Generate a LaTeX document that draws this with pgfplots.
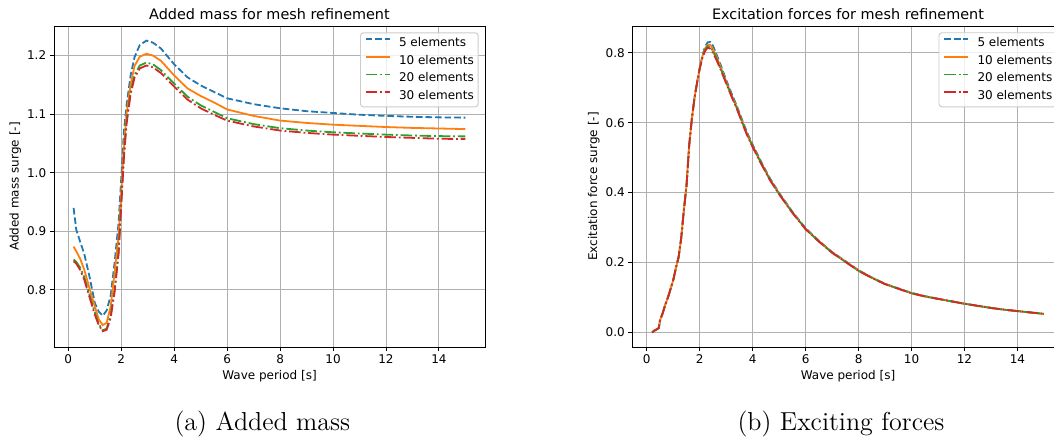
\documentclass[border=0pt]{standalone}
\usepackage{fontspec}
\usepackage{pgfplots}
\usepackage{pgfplotstable}
\pgfplotsset{compat=1.18}
\newfontfamily\dejavu{DejaVu Sans}

\definecolor{tabblue}{HTML}{1F77B4}
\definecolor{taborange}{HTML}{FF7F0E}
\definecolor{tabgreen}{HTML}{2CA02C}
\definecolor{tabred}{HTML}{D62728}
\definecolor{gridgray}{HTML}{B0B0B0}
\definecolor{legedge}{HTML}{CCCCCC}

% Added mass in surge versus wave period
\pgfplotstableread{
T     e5      e10     e20     e30
0.2   0.940   0.874   0.852   0.849
0.3   0.903   0.866   0.848   0.845
0.45  0.882   0.853   0.838   0.834
0.6   0.862   0.835   0.822   0.818
0.8   0.823   0.803   0.792   0.788
1.0   0.778   0.772   0.762   0.758
1.15  0.763   0.750   0.742   0.740
1.3   0.756   0.740   0.731   0.7295
1.45  0.765   0.744   0.734   0.732
1.6   0.790   0.772   0.758   0.752
1.75  0.847   0.830   0.800   0.797
1.9   0.915   0.892   0.866   0.862
2.0   0.990   0.965   0.950   0.945
2.1   1.070   1.045   1.030   1.025
2.2   1.115   1.100   1.088   1.083
2.35  1.165   1.150   1.138   1.133
2.5   1.197   1.182   1.167   1.162
2.7   1.218   1.198   1.183   1.178
2.95  1.2255  1.203   1.188   1.183
3.2   1.222   1.200   1.185   1.180
3.5   1.212   1.191   1.175   1.170
4.0   1.185   1.166   1.152   1.147
4.5   1.163   1.144   1.130   1.125
5.0   1.149   1.131   1.115   1.110
5.5   1.138   1.120   1.104   1.099
6.0   1.127   1.108   1.093   1.089
7.0   1.117   1.097   1.083   1.079
8.0   1.110   1.089   1.076   1.072
9.0   1.105   1.085   1.072   1.068
10.0  1.102   1.082   1.069   1.065
11.0  1.099   1.080   1.067   1.063
12.0  1.097   1.078   1.065   1.061
13.0  1.0955  1.0765  1.0635  1.0595
14.0  1.0945  1.0755  1.0625  1.058
15.0  1.094   1.0745  1.062   1.0575
}\addedmass

% Excitation force in surge versus wave period
\pgfplotstableread{
T     e5      e10     e20     e30
0.2   0.000   0.000   0.000   0.000
0.3   0.005   0.006   0.006   0.006
0.4   0.009   0.010   0.010   0.010
0.45  0.011   0.012   0.012   0.012
0.5   0.033   0.035   0.035   0.035
0.6   0.055   0.055   0.055   0.055
0.7   0.080   0.080   0.080   0.080
0.8   0.102   0.100   0.100   0.100
0.9   0.125   0.125   0.125   0.125
1.0   0.150   0.150   0.150   0.150
1.1   0.185   0.185   0.185   0.185
1.2   0.215   0.215   0.215   0.215
1.3   0.270   0.270   0.270   0.270
1.4   0.350   0.350   0.350   0.350
1.5   0.420   0.420   0.420   0.420
1.6   0.535   0.535   0.535   0.535
1.7   0.610   0.610   0.610   0.610
1.8   0.671   0.670   0.670   0.670
1.9   0.717   0.716   0.715   0.715
2.0   0.757   0.757   0.756   0.755
2.1   0.792   0.790   0.788   0.785
2.2   0.818   0.812   0.809   0.805
2.3   0.830   0.823   0.819   0.815
2.4   0.831   0.823   0.817   0.812
2.5   0.820   0.811   0.805   0.800
2.6   0.802   0.795   0.789   0.785
2.8   0.763   0.757   0.753   0.750
3.0   0.722   0.717   0.714   0.712
3.2   0.684   0.679   0.677   0.675
3.4   0.648   0.644   0.642   0.640
3.6   0.608   0.604   0.602   0.600
3.8   0.570   0.566   0.564   0.562
4.0   0.537   0.533   0.532   0.530
4.3   0.491   0.488   0.487   0.485
4.65  0.441   0.438   0.437   0.436
5.0   0.399   0.397   0.396   0.395
5.5   0.345   0.343   0.343   0.342
6.0   0.298   0.296   0.296   0.295
6.5   0.262   0.261   0.260   0.260
7.0   0.230   0.229   0.228   0.228
7.5   0.204   0.203   0.202   0.202
8.0   0.178   0.177   0.176   0.176
8.5   0.157   0.157   0.156   0.156
9.0   0.139   0.139   0.138   0.138
9.5   0.126   0.125   0.125   0.125
10.0  0.113   0.112   0.112   0.112
10.5  0.104   0.103   0.103   0.103
11.0  0.096   0.096   0.096   0.096
11.5  0.089   0.089   0.089   0.089
12.0  0.082   0.082   0.082   0.082
12.5  0.076   0.076   0.076   0.076
13.0  0.070   0.070   0.070   0.070
13.5  0.065   0.065   0.065   0.065
14.0  0.061   0.061   0.061   0.061
14.5  0.057   0.057   0.057   0.057
15.0  0.053   0.053   0.053   0.053
}\excitation

\pgfplotsset{
  mplstyle/.style={
    scale only axis, width=215.5pt, height=160.5pt,
    xmin=-0.54, xmax=15.74,
    xtick={0,2,...,14},
    grid=major,
    major grid style={gridgray, line width=0.48pt},
    axis line style={black, line width=0.48pt},
    tick align=outside, tick pos=left,
    major tick length=2.1pt,
    tick style={black, line width=0.48pt},
    /pgf/number format/assume math mode=true,
    ticklabel style={font=\dejavu\fontsize{6}{7}\selectfont, inner sep=1.6pt},
    every axis x label/.style={at={(axis description cs:0.5,0)}, anchor=center,
      yshift=-14.5pt, font=\dejavu\fontsize{6}{7}\selectfont},
    every axis y label/.style={at={(axis description cs:-0.09,0.5)}, anchor=center,
      rotate=90, font=\dejavu\fontsize{6}{7}\selectfont},
    every axis title/.style={at={(axis description cs:0.5,1)}, anchor=base,
      yshift=3.3pt, font=\dejavu\fontsize{7.2}{8.6}\selectfont},
    legend cell align=left,
    legend image code/.code={
      \draw[##1] (0pt,2.1pt) -- (12pt,2.1pt);
      \path[draw=none] (0pt,2.1pt) -- (16.6pt,2.1pt);
    },
    legend style={
      font=\dejavu\fontsize{6}{7}\selectfont,
      at={(axis description cs:1,1)}, anchor=north east,
      xshift=-3.15pt, yshift=-3.15pt,
      draw=legedge, line width=0.48pt, rounded corners=1.5pt,
      fill=white, fill opacity=0.8, text opacity=1,
      inner xsep=2.2pt, inner ysep=2.3pt,
      nodes={inner sep=0pt, text height=4.6pt, text depth=1.3pt},
      row sep=2.95pt,
    },
  },
  s5/.style={tabblue, line width=0.9pt, dash pattern=on 3.33pt off 1.44pt},
  s10/.style={taborange, line width=0.9pt, solid},
  s20/.style={tabgreen, line width=0.9pt, dash pattern=on 5.76pt off 1.44pt on 0.9pt off 1.44pt},
  s30/.style={tabred, line width=0.9pt, dash pattern=on 5.76pt off 1.44pt on 0.9pt off 1.44pt},
}

\begin{document}
\begin{tikzpicture}
\begin{axis}[mplstyle,
  at={(27pt,46.5pt)}, anchor=south west,
  ymin=0.7026, ymax=1.2504,
  ytick={0.8,0.9,1.0,1.1,1.2},
  yticklabel style={/pgf/number format/.cd, fixed, fixed zerofill, precision=1},
  title={Added mass for mesh refinement},
  xlabel={Wave period [s]},
  ylabel={Added mass surge [-]},
]
\addplot[s5] table[x=T, y=e5] {\addedmass};
\addlegendentry{5 elements}
\addplot[s10] table[x=T, y=e10] {\addedmass};
\addlegendentry{10 elements}
\addplot[s20] table[x=T, y=e20] {\addedmass};
\addlegendentry{20 elements}
\addplot[s30] table[x=T, y=e30] {\addedmass};
\addlegendentry{30 elements}
\end{axis}

\begin{axis}[mplstyle,
  at={(316.25pt,46.5pt)}, anchor=south west,
  ymin=-0.0418, ymax=0.8768,
  ytick={0,0.2,0.4,0.6,0.8},
  yticklabel style={/pgf/number format/.cd, fixed, fixed zerofill, precision=1},
  title={Excitation forces for mesh refinement},
  xlabel={Wave period [s]},
  ylabel={Excitation force surge [-]},
]
\addplot[s5] table[x=T, y=e5] {\excitation};
\addlegendentry{5 elements}
\addplot[s10] table[x=T, y=e10] {\excitation};
\addlegendentry{10 elements}
\addplot[s20] table[x=T, y=e20] {\excitation};
\addlegendentry{20 elements}
\addplot[s30] table[x=T, y=e30] {\excitation};
\addlegendentry{30 elements}
\end{axis}

\node[anchor=base, font=\fontsize{13}{15}\selectfont] at (131.2pt,4.7pt) {(a) Added mass};
\node[anchor=base, font=\fontsize{13}{15}\selectfont] at (420.5pt,4.7pt) {(b) Exciting forces};

\pgfresetboundingbox
\path (0pt,0pt) rectangle (527pt,220pt);
\end{tikzpicture}
\end{document}
